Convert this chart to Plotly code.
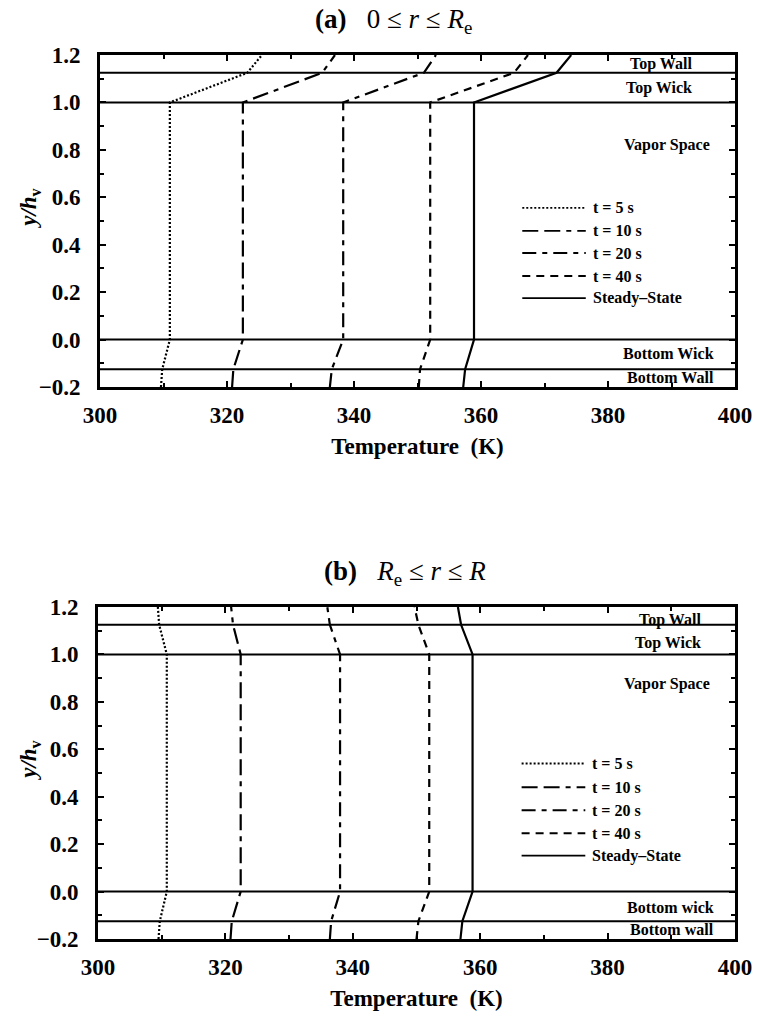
import plotly.graph_objects as go

# Dimensionless height y/h_v at the layer interfaces (bottom wall -> top wall)
y_levels = [-0.2, -0.125, 0.0, 1.0, 1.125, 1.2]
layer_bounds = [-0.125, 0.0, 1.0, 1.125]

series_names = ["t = 5 s", "t = 10 s", "t = 20 s", "t = 40 s", "Steady–State"]

# Panel (a): 0 <= r <= R_e, temperature (K) at each y level
temps_a = {
    "t = 5 s":      [309.6, 309.8, 311.0, 311.0, 323.2, 325.5],
    "t = 10 s":     [320.8, 321.0, 322.5, 322.5, 335.0, 337.0],
    "t = 20 s":     [336.2, 336.5, 338.3, 338.3, 351.0, 352.9],
    "t = 40 s":     [350.2, 350.4, 352.0, 352.0, 365.2, 367.4],
    "Steady–State": [357.2, 357.5, 358.9, 358.9, 371.9, 374.2],
}

# Panel (b): R_e <= r <= R
temps_b = {
    "t = 5 s":      [309.5, 309.7, 310.8, 310.8, 309.6, 309.4],
    "t = 10 s":     [320.8, 321.0, 322.4, 322.4, 321.2, 320.9],
    "t = 20 s":     [336.4, 336.6, 338.0, 338.0, 336.4, 336.0],
    "t = 40 s":     [350.0, 350.3, 352.0, 352.0, 350.3, 349.7],
    "Steady–State": [356.9, 357.2, 358.8, 358.8, 357.0, 356.5],
}

region_labels_a = ["Top Wall", "Top Wick", "Vapor Space", "Bottom Wick", "Bottom Wall"]
region_labels_b = ["Top Wall", "Top Wick", "Vapor Space", "Bottom wick", "Bottom wall"]

x_ticks = [300, 320, 340, 360, 380, 400]
y_ticks = [-0.2, 0.0, 0.2, 0.4, 0.6, 0.8, 1.0, 1.2]
y_tick_text = ["−0.2", "0.0", "0.2", "0.4", "0.6", "0.8", "1.0", "1.2"]

dashes = {
    "t = 5 s": "2px,2px",
    "t = 10 s": "16px,6px,16px,6px,5px,6px",
    "t = 20 s": "14px,6px,5px,6px",
    "t = 40 s": "8px,6px",
    "Steady–State": "solid",
}

FONT = "Liberation Serif"
x_range = [300, 400]
y_range = [-0.2, 1.2]

# per panel: axes, data, labels, domains, label placement (x right edge, y), key rows
panels = [
    dict(xa="x", ya="y", temps=temps_a, labels=region_labels_a,
         xdom=[100 / 758, 735 / 758], ydom=[1 - 387 / 1019, 1 - 55 / 1019],
         lab_x=[393.6, 393.6, 396.4, 397.0, 397.0],
         lab_y=[1.16, 1.062, 0.82, -0.058, -0.16],
         key_y=[0.555, 0.458, 0.365, 0.268, 0.175]),
    dict(xa="x2", ya="y2", temps=temps_b, labels=region_labels_b,
         xdom=[98 / 758, 735 / 758], ydom=[1 - 939 / 1019, 1 - 607 / 1019],
         lab_x=[395.0, 395.0, 396.4, 397.0, 397.0],
         lab_y=[1.147, 1.05, 0.874, -0.068, -0.162],
         key_y=[0.54, 0.44, 0.343, 0.246, 0.152]),
]

fig = go.Figure()

for p in panels:
    xa, ya = p["xa"], p["ya"]
    # layer interface lines
    for yb in layer_bounds:
        fig.add_trace(go.Scatter(
            x=x_range, y=[yb, yb], xaxis=xa, yaxis=ya, mode="lines",
            line=dict(color="black", width=2), showlegend=False, hoverinfo="skip"))
    for name in series_names:
        fig.add_trace(go.Scatter(
            x=p["temps"][name], y=y_levels, xaxis=xa, yaxis=ya, mode="lines",
            line=dict(color="black", width=2.2, dash=dashes[name]),
            showlegend=False, name=name))
    # region labels
    for lab, lx, ly in zip(p["labels"], p["lab_x"], p["lab_y"]):
        fig.add_annotation(x=lx, y=ly, xref=xa, yref=ya, text="<b>%s</b>" % lab,
                           showarrow=False, xanchor="right", yanchor="middle",
                           font=dict(family=FONT, size=16, color="black"))
    # hand-drawn key
    for name, ky in zip(series_names, p["key_y"]):
        fig.add_shape(type="line", xref=xa, yref=ya, x0=366.5, x1=376.5, y0=ky, y1=ky,
                      line=dict(color="black", width=1.8, dash=dashes[name]))
        fig.add_annotation(x=377.3, y=ky, xref=xa, yref=ya, text="<b>%s</b>" % name,
                           showarrow=False, xanchor="left", yanchor="middle",
                           font=dict(family=FONT, size=16, color="black"))

axis_common = dict(
    showline=True, linecolor="black", linewidth=2.8, mirror="ticks",
    ticks="inside", ticklen=6, tickwidth=1.5, tickcolor="black", showgrid=False,
    zeroline=False, tickfont=dict(family=FONT, size=23, color="black"),
    automargin=False,
)

fig.update_layout(
    width=758, height=1019, margin=dict(l=0, r=0, t=0, b=0, autoexpand=False),
    plot_bgcolor="white", paper_bgcolor="white", showlegend=False,
)

for i, p in enumerate(panels):
    sx = "" if i == 0 else "2"
    fig.layout["xaxis" + sx] = dict(
        axis_common, domain=p["xdom"], range=x_range, anchor="y" + sx,
        tickvals=x_ticks, ticktext=["<b>%d</b>" % v for v in x_ticks],
        ticklabelstandoff=5,
        minor=dict(dtick=10, ticks="inside", ticklen=4, tickcolor="black"),
        title=dict(text="<b>Temperature  (K)</b>", font=dict(family=FONT, size=23, color="black"),
                   standoff=12),
    )
    fig.layout["yaxis" + sx] = dict(
        axis_common, domain=p["ydom"], range=y_range, anchor="x" + sx,
        tickvals=y_ticks, ticktext=["<b>%s</b>" % t for t in y_tick_text],
        ticklabelstandoff=12,
        minor=dict(dtick=0.1, ticks="inside", ticklen=4, tickcolor="black"),
    )
    # vertical axis title
    ymid = (p["ydom"][0] + p["ydom"][1]) / 2 + 0.012
    fig.add_annotation(x=30 / 758, y=ymid, xref="paper", yref="paper",
                       text="<b><i>y/h</i><sub>v</sub></b>", textangle=-90, showarrow=False,
                       xanchor="center", yanchor="middle",
                       font=dict(family=FONT, size=23, color="black"))

fig.add_annotation(x=393 / 758, y=1 - 2 / 1019, xref="paper", yref="paper",
                   text="<b>(a)</b>   0 ≤ <i>r</i> ≤ <i>R</i><sub>e</sub>", showarrow=False,
                   font=dict(family=FONT, size=27, color="black"), yanchor="top")
fig.add_annotation(x=405 / 758, y=1 - 573 / 1019, xref="paper", yref="paper",
                   text="<b>(b)</b>   <i>R</i><sub>e</sub> ≤ <i>r</i> ≤ <i>R</i>", showarrow=False,
                   font=dict(family=FONT, size=27, color="black"), yanchor="middle")

fig.write_html("out.html")
